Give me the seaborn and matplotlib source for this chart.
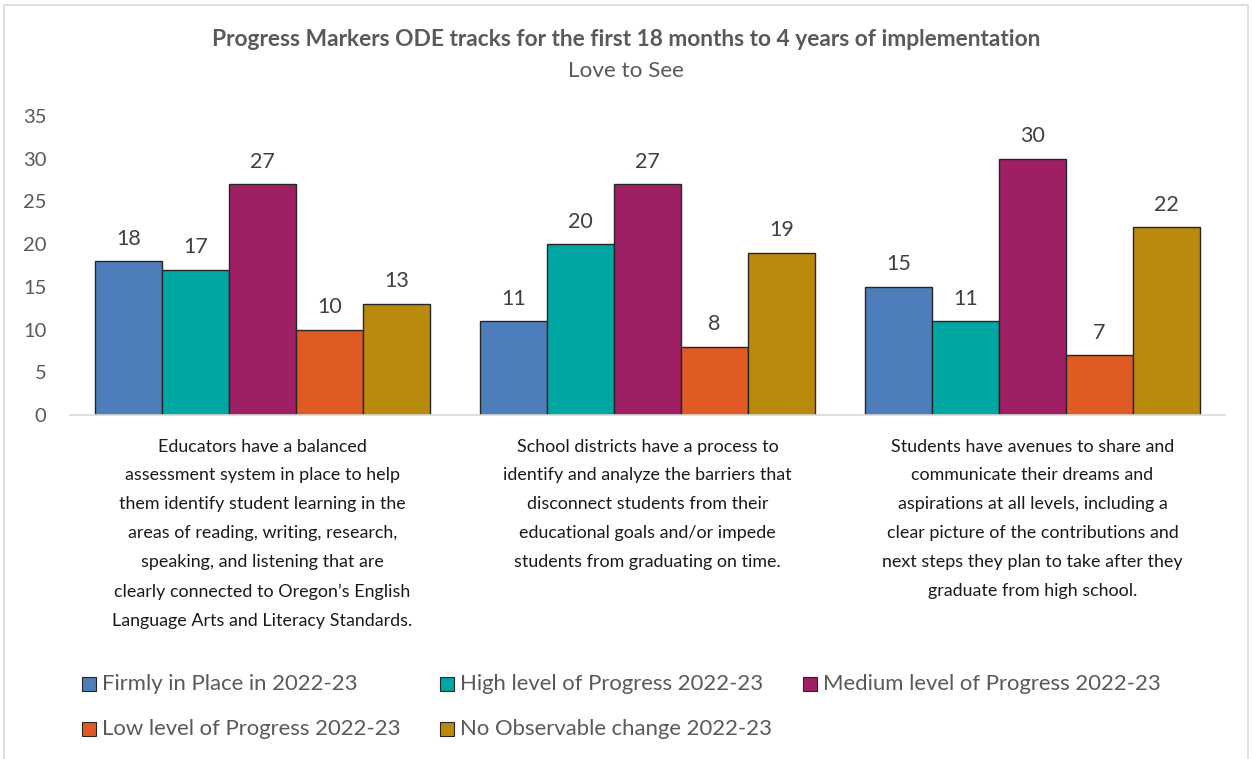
import matplotlib
matplotlib.use("Agg")
import matplotlib.pyplot as plt
from matplotlib.patches import Rectangle
import seaborn as sns
import pandas as pd

# Category labels (x axis) and series
categories = [
    "Educators have a balanced\nassessment system in place to help\nthem identify student learning in the\nareas of reading, writing, research,\nspeaking, and listening that are\nclearly connected to Oregon\u2019s English\nLanguage Arts and Literacy Standards.",
    "School districts have a process to\nidentify and analyze the barriers that\ndisconnect students from their\neducational goals and/or impede\nstudents from graduating on time.",
    "Students have avenues to share and\ncommunicate their dreams and\naspirations at all levels, including a\nclear picture of the contributions and\nnext steps they plan to take after they\ngraduate from high school.",
]
series = [
    "Firmly in Place in 2022-23",
    "High level of Progress 2022-23",
    "Medium level of Progress 2022-23",
    "Low level of Progress 2022-23",
    "No Observable change 2022-23",
]
firmly = [18, 11, 15]
high = [17, 20, 11]
medium = [27, 27, 30]
low = [10, 8, 7]
no_change = [13, 19, 22]

colors = ["#4D7EBB", "#00A6A2", "#9E1F63", "#E05A24", "#BA8A0C"]

values = [firmly, high, medium, low, no_change]
rows = []
for s, vals in zip(series, values):
    for c, v in zip(categories, vals):
        rows.append({"category": c, "series": s, "value": v})
df = pd.DataFrame(rows)

sns.set_theme(style="white")
plt.rcParams["font.family"] = ["Lato", "DejaVu Sans"]

W, H = 1252, 759
fig = plt.figure(figsize=(W / 100, H / 100), dpi=100)
ax = fig.add_axes([70 / W, 1 - 415 / H, 1155 / W, 299 / H])

sns.barplot(data=df, x="category", y="value", hue="series", order=categories,
            hue_order=series, palette=colors, width=0.87, edgecolor="#262626",
            linewidth=1.0, saturation=1, ax=ax, legend=False)

for cont in ax.containers:
    ax.bar_label(cont, padding=9, fontsize=15.5, color="#404040")

ax.set_ylim(0, 35)
ax.set_yticks(range(0, 36, 5))
ax.set_xlim(-0.5, 2.5)
ax.set_xlabel("")
ax.set_ylabel("")
ax.tick_params(axis="y", labelsize=14.5, labelcolor="#595959", length=0, pad=17)
ax.tick_params(axis="x", labelsize=12.9, labelcolor="#1a1a1a", length=0, pad=17)
for lbl in ax.get_xticklabels():
    lbl.set_linespacing(1.99)
    lbl.set_verticalalignment("top")
for side in ["top", "right", "left"]:
    ax.spines[side].set_visible(False)
ax.spines["bottom"].set_color("#d9d9d9")
ax.spines["bottom"].set_linewidth(1.2)
ax.grid(False)

fig.text(0.5, 1 - 40 / H, "Progress Markers ODE tracks for the first 18 months to 4 years of implementation",
         ha="center", va="center", fontsize=16.4, fontweight="bold", color="#595959")
fig.text(0.5, 1 - 71 / H, "Love to See", ha="center", va="center", fontsize=16.2, color="#595959")

# Legend: colour squares with labels, three per row
legend_x = [82, 440, 803]
legend_y = [684, 729]
for i, (name, col) in enumerate(zip(series, colors)):
    r, c = divmod(i, 3)
    x0, yc = legend_x[c], legend_y[r]
    fig.patches.append(Rectangle((x0 / W, 1 - (yc + 7) / H), 14 / W, 14 / H,
                                 transform=fig.transFigure, facecolor=col,
                                 edgecolor="#262626", linewidth=0.8))
    fig.text((x0 + 20) / W, 1 - yc / H, name, ha="left", va="center",
             fontsize=15.9, color="#595959")

fig.patches.append(Rectangle((0.003, -0.01), 0.994, 1.004, transform=fig.transFigure,
                             fill=False, edgecolor="#d9d9d9", linewidth=1.2))

fig.savefig("out.png", dpi=100, facecolor="white")
